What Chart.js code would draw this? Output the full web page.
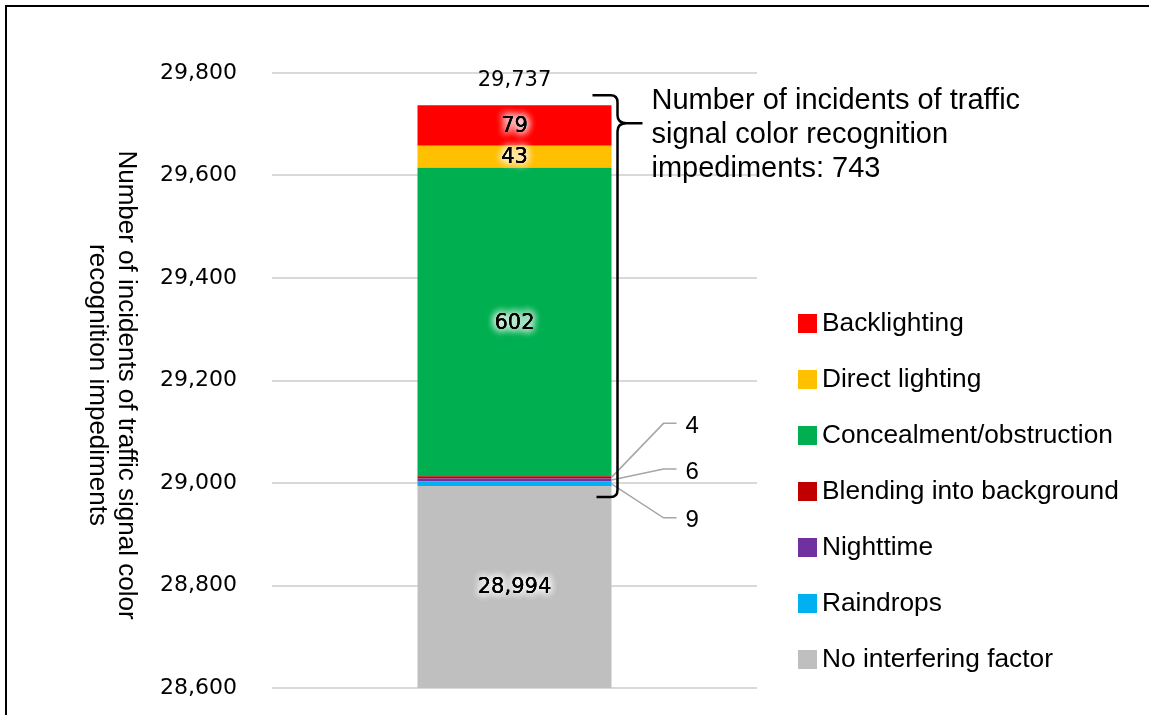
<!DOCTYPE html>
<html>
<head>
<meta charset="utf-8">
<title>Traffic signal color recognition impediments</title>
<script src="https://cdn.jsdelivr.net/npm/chart.js@4/dist/chart.umd.min.js"></script>
<style>
  html, body { margin: 0; padding: 0; background: #ffffff; overflow: hidden; }
  canvas { display: block; }
</style>
</head>
<body>
<canvas id="chart" width="1149" height="715"></canvas>
<script>
// Stacked series, bottom to top
const categories = ['All incidents'];
const seriesNames = [
  'No interfering factor',
  'Raindrops',
  'Nighttime',
  'Blending into background',
  'Concealment/obstruction',
  'Direct lighting',
  'Backlighting'
];
const seriesValues = [28994, 9, 6, 4, 602, 43, 79];
const seriesColors = ['#bfbfbf', '#00b0f0', '#7030a0', '#c00000', '#00b050', '#ffc000', '#ff0000'];

// Value axis
const yMin = 28600;
const yMax = 29800;
const yStep = 200;

const yTitleLines = ['Number of incidents of traffic signal color', 'recognition impediments'];

// Everything above the "no interfering factor" block counts as an impediment
const impedimentValues = seriesValues.slice(1);
const impedimentTotal = impedimentValues.reduce((a, b) => a + b, 0);
const grandTotal = seriesValues.reduce((a, b) => a + b, 0);
const noteLines = ['Number of incidents of traffic', 'signal color recognition', 'impediments: ' + impedimentTotal];

const fmt = v => v.toLocaleString('en-US');

// Thin segments get an outside label on a gray leader; value = elbow offset from the segment
const leaderOffsets = { 1: 34, 2: -11, 3: -54 };

const DV = "'DejaVu Sans', Verdana, sans-serif";
const LS = "'Liberation Sans', Arial, sans-serif";

function glowText(ctx, text, x, y) {
  ctx.save();
  ctx.shadowColor = 'rgba(255,255,255,1)';
  ctx.shadowBlur = 8;
  for (let i = 0; i < 4; i++) ctx.fillText(text, x, y);
  ctx.restore();
  ctx.fillText(text, x, y);
}

const annotations = {
  id: 'annotations',
  beforeDraw(chart) {
    // page frame along the top and left edges
    const ctx = chart.ctx;
    ctx.save();
    ctx.strokeStyle = '#000';
    ctx.lineWidth = 2;
    ctx.beginPath();
    ctx.moveTo(6, chart.height);
    ctx.lineTo(6, 6);
    ctx.lineTo(chart.width, 6);
    ctx.stroke();
    ctx.restore();
  },
  afterDatasetsDraw(chart) {
    const ctx = chart.ctx;
    const area = chart.chartArea;
    const yScale = chart.scales.y;
    const first = chart.getDatasetMeta(0).data[0];
    const barRight = first.x + first.width / 2;
    const barX = first.x;

    ctx.save();
    ctx.textAlign = 'center';
    ctx.textBaseline = 'middle';
    ctx.fillStyle = '#000';

    // value labels
    chart.data.datasets.forEach((ds, i) => {
      const el = chart.getDatasetMeta(i).data[0];
      const v = ds.data[0];
      const top = Math.max(Math.min(el.y, el.base), area.top);
      const bot = Math.min(Math.max(el.y, el.base), area.bottom);
      if (leaderOffsets[i] === undefined) {
        ctx.font = '21px ' + DV;
        glowText(ctx, fmt(v), barX, (top + bot) / 2 + 1);
      } else {
        const cy = (el.y + el.base) / 2;
        const ey = cy + leaderOffsets[i];
        ctx.save();
        ctx.strokeStyle = '#a6a6a6';
        ctx.lineWidth = 1.5;
        ctx.beginPath();
        ctx.moveTo(barRight, cy);
        ctx.lineTo(barRight + 52, ey);
        ctx.lineTo(barRight + 65, ey);
        ctx.stroke();
        ctx.restore();
        ctx.font = '24px ' + LS;
        ctx.textAlign = 'left';
        ctx.fillText(fmt(v), barRight + 74, ey + 3);
        ctx.textAlign = 'center';
      }
    });

    // total above the bar
    const yTotal = yScale.getPixelForValue(grandTotal);
    ctx.font = '21px ' + DV;
    ctx.fillText(fmt(grandTotal), barX, yTotal - 25);

    // curly brace spanning the impediment segments
    const yBase = yScale.getPixelForValue(seriesValues[0]);
    const yTop = yTotal - 10;
    const yBot = yBase + 11;
    const yMid = yTop + 28;
    const vx = barRight + 6;
    const tipX = barRight + 31;
    ctx.strokeStyle = '#000';
    ctx.lineWidth = 2.5;
    ctx.lineJoin = 'round';
    ctx.beginPath();
    ctx.moveTo(barRight - 19, yTop);
    ctx.lineTo(vx - 7, yTop);
    ctx.quadraticCurveTo(vx, yTop, vx, yTop + 7);
    ctx.lineTo(vx, yMid - 8);
    ctx.quadraticCurveTo(vx, yMid, vx + 9, yMid);
    ctx.lineTo(tipX, yMid);
    ctx.moveTo(vx + 9, yMid);
    ctx.quadraticCurveTo(vx, yMid, vx, yMid + 8);
    ctx.lineTo(vx, yBot - 7);
    ctx.quadraticCurveTo(vx, yBot, vx - 7, yBot);
    ctx.lineTo(barRight - 15, yBot);
    ctx.stroke();

    // note beside the brace
    ctx.font = '29px ' + LS;
    ctx.textAlign = 'left';
    noteLines.forEach((t, k) => ctx.fillText(t, barRight + 40, yMid - 22 + k * 34));

    // legend, listed from the top of the stack down
    ctx.font = '26.3px ' + LS;
    const n = chart.data.datasets.length;
    for (let k = 0; k < n; k++) {
      const i = n - 1 - k;
      const ds = chart.data.datasets[i];
      const cy = 323 + k * 56;
      ctx.fillStyle = ds.backgroundColor;
      ctx.fillRect(798, cy - 9, 19, 19);
      ctx.fillStyle = '#000';
      ctx.fillText(ds.label, 822, cy + 1);
    }

    // axis title, reading top to bottom
    ctx.save();
    ctx.translate(112, 385);
    ctx.rotate(Math.PI / 2);
    ctx.font = '26px ' + LS;
    ctx.textAlign = 'center';
    yTitleLines.forEach((t, k) => ctx.fillText(t, 0, -14.5 + k * 29));
    ctx.restore();

    ctx.restore();
  }
};

new Chart(document.getElementById('chart'), {
  type: 'bar',
  data: {
    labels: categories,
    datasets: seriesNames.map((name, i) => ({
      label: name,
      data: [seriesValues[i]],
      backgroundColor: seriesColors[i],
      borderWidth: 0,
      categoryPercentage: 1,
      barPercentage: 0.4
    }))
  },
  options: {
    responsive: false,
    animation: false,
    devicePixelRatio: 1,
    layout: { padding: { top: 73, right: 392, bottom: 27, left: 0 } },
    plugins: {
      legend: { display: false },
      tooltip: { enabled: false },
      title: { display: false }
    },
    scales: {
      x: {
        stacked: true,
        display: false,
        ticks: { display: false },
        grid: { display: false },
        afterFit(scale) { scale.height = 0; }
      },
      y: {
        stacked: true,
        min: yMin,
        max: yMax,
        afterFit(scale) {
          scale.width = 272;
          scale.paddingTop = 0;
          scale.paddingBottom = 0;
        },
        border: { display: false },
        grid: { color: '#d9d9d9', lineWidth: 2, drawTicks: false },
        ticks: {
          stepSize: yStep,
          padding: 35,
          color: '#000',
          font: { family: 'DejaVu Sans', size: 22 },
          callback: v => fmt(v)
        }
      }
    }
  },
  plugins: [annotations]
});
</script>
</body>
</html>
